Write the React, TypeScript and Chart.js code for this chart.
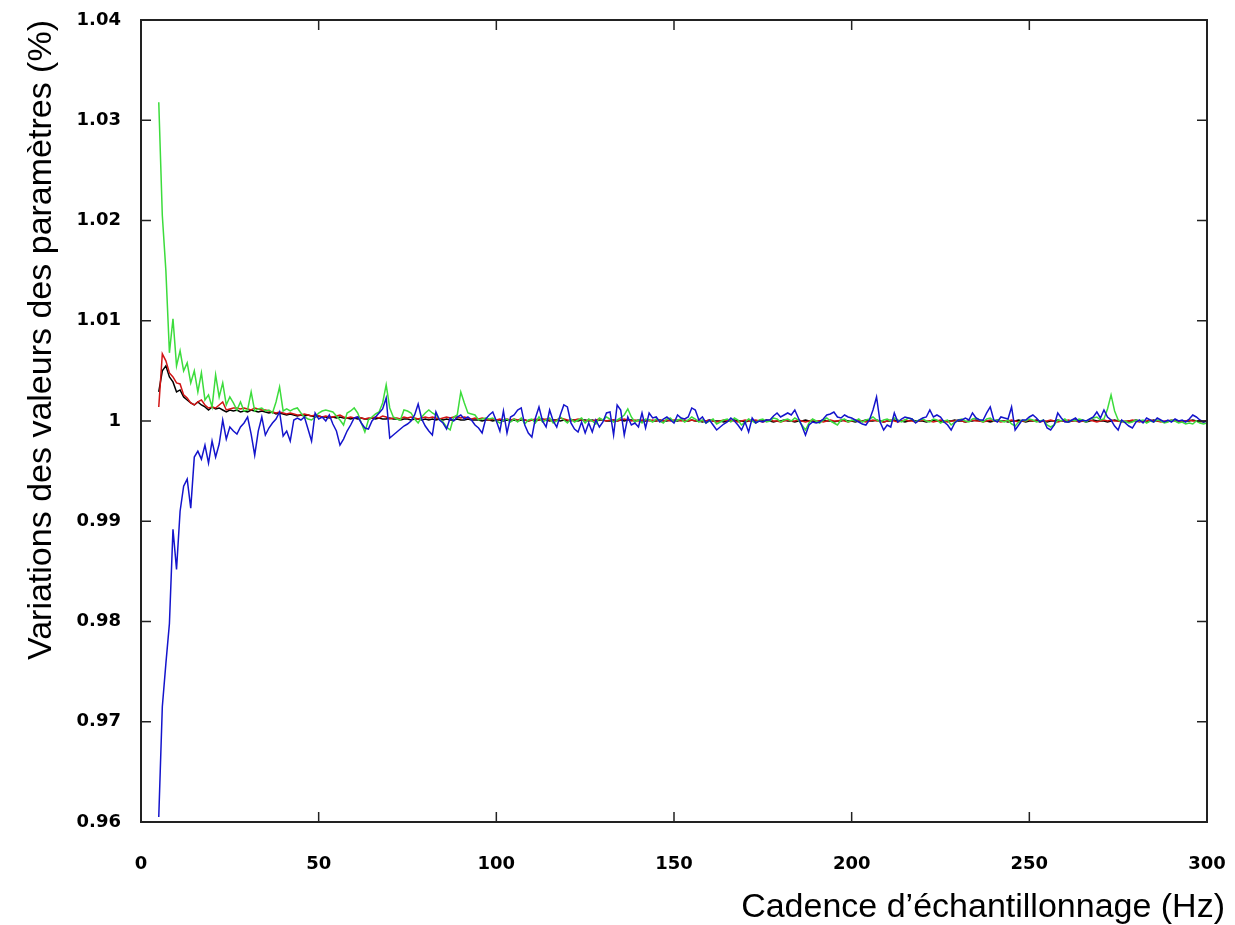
import React, { useEffect, useRef } from "react";
import { Chart, registerables } from "chart.js";

Chart.register(...registerables);

// Sampling frequencies (Hz)
const freqHz = [
  5, 6, 7, 8, 9, 10, 11, 12, 13, 14,
  15, 16, 17, 18, 19, 20, 21, 22, 23, 24,
  25, 26, 27, 28, 29, 30, 31, 32, 33, 34,
  35, 36, 37, 38, 39, 40, 41, 42, 43, 44,
  45, 46, 47, 48, 49, 50, 51, 52, 53, 54,
  55, 56, 57, 58, 59, 60, 61, 62, 63, 64,
  65, 66, 67, 68, 69, 70, 71, 72, 73, 74,
  75, 76, 77, 78, 79, 80, 81, 82, 83, 84,
  85, 86, 87, 88, 89, 90, 91, 92, 93, 94,
  95, 96, 97, 98, 99, 100, 101, 102, 103, 104,
  105, 106, 107, 108, 109, 110, 111, 112, 113, 114,
  115, 116, 117, 118, 119, 120, 121, 122, 123, 124,
  125, 126, 127, 128, 129, 130, 131, 132, 133, 134,
  135, 136, 137, 138, 139, 140, 141, 142, 143, 144,
  145, 146, 147, 148, 149, 150, 151, 152, 153, 154,
  155, 156, 157, 158, 159, 160, 161, 162, 163, 164,
  165, 166, 167, 168, 169, 170, 171, 172, 173, 174,
  175, 176, 177, 178, 179, 180, 181, 182, 183, 184,
  185, 186, 187, 188, 189, 190, 191, 192, 193, 194,
  195, 196, 197, 198, 199, 200, 201, 202, 203, 204,
  205, 206, 207, 208, 209, 210, 211, 212, 213, 214,
  215, 216, 217, 218, 219, 220, 221, 222, 223, 224,
  225, 226, 227, 228, 229, 230, 231, 232, 233, 234,
  235, 236, 237, 238, 239, 240, 241, 242, 243, 244,
  245, 246, 247, 248, 249, 250, 251, 252, 253, 254,
  255, 256, 257, 258, 259, 260, 261, 262, 263, 264,
  265, 266, 267, 268, 269, 270, 271, 272, 273, 274,
  275, 276, 277, 278, 279, 280, 281, 282, 283, 284,
  285, 286, 287, 288, 289, 290, 291, 292, 293, 294,
  295, 296, 297, 298, 299, 300,
];

// Blue series
const blueValues = [
  0.9605, 0.9715, 0.9758, 0.9798, 0.9892, 0.9852, 0.9910, 0.9935, 0.9942, 0.9913,
  0.9964, 0.9970, 0.9962, 0.9976, 0.9958, 0.9980, 0.9964, 0.9977, 1.0001, 0.9982,
  0.9994, 0.9990, 0.9987, 0.9994, 0.9998, 1.0004, 0.9987, 0.9966, 0.9990, 1.0004,
  0.9986, 0.9993, 0.9998, 1.0002, 1.0009, 0.9985, 0.9990, 0.9980, 1.0001, 1.0003,
  1.0001, 1.0004, 0.9992, 0.9980, 1.0008, 1.0002, 1.0004, 1.0000, 1.0006, 0.9997,
  0.9990, 0.9976, 0.9982, 0.9990, 0.9996, 1.0003, 1.0004, 0.9998, 0.9993, 0.9992,
  1.0000, 1.0004, 1.0008, 1.0012, 1.0023, 0.9983, 0.9986, 0.9989, 0.9992, 0.9995,
  0.9997, 1.0000, 1.0006, 1.0017, 1.0002, 0.9995, 0.9990, 0.9986, 1.0009, 1.0001,
  0.9998, 0.9992, 1.0003, 1.0000, 1.0004, 1.0006, 1.0002, 1.0004, 1.0001, 0.9996,
  0.9993, 0.9988, 1.0002, 1.0006, 1.0009, 1.0000, 0.9990, 1.0010, 0.9988, 1.0004,
  1.0006, 1.0011, 1.0013, 0.9996, 0.9988, 0.9984, 1.0003, 1.0014, 1.0000, 0.9994,
  1.0011, 1.0000, 0.9994, 1.0006, 1.0016, 1.0014, 0.9998, 0.9992, 0.9989, 0.9999,
  0.9988, 0.9998, 0.9989, 1.0001, 0.9994, 0.9999, 1.0008, 1.0009, 0.9986, 1.0016,
  1.0011, 0.9986, 1.0004, 0.9996, 0.9998, 0.9994, 1.0008, 0.9993, 1.0008, 1.0003,
  1.0004, 0.9999, 1.0002, 1.0004, 1.0001, 0.9998, 1.0006, 1.0003, 1.0002, 1.0004,
  1.0013, 1.0011, 1.0001, 1.0004, 0.9998, 1.0001, 0.9996, 0.9991, 0.9994, 0.9997,
  0.9999, 1.0003, 1.0000, 0.9996, 0.9991, 0.9999, 0.9989, 1.0003, 0.9998, 1.0000,
  0.9999, 1.0001, 1.0001, 1.0005, 1.0008, 1.0004, 1.0006, 1.0008, 1.0006, 1.0011,
  1.0003, 0.9995, 0.9986, 0.9996, 0.9999, 0.9998, 0.9999, 1.0002, 1.0006, 1.0007,
  1.0009, 1.0004, 1.0003, 1.0006, 1.0004, 1.0003, 1.0001, 0.9999, 0.9997, 0.9996,
  1.0001, 1.0011, 1.0024, 0.9999, 0.9991, 0.9996, 0.9994, 1.0008, 0.9999, 1.0002,
  1.0004, 1.0003, 1.0002, 0.9998, 1.0001, 1.0003, 1.0004, 1.0011, 1.0004, 1.0006,
  1.0004, 0.9999, 0.9996, 0.9991, 0.9998, 1.0001, 1.0001, 1.0003, 1.0001, 1.0008,
  1.0003, 1.0001, 1.0001, 1.0008, 1.0014, 1.0001, 0.9999, 1.0004, 1.0003, 1.0002,
  1.0014, 0.9991, 0.9996, 1.0001, 1.0001, 1.0004, 1.0006, 1.0003, 0.9999, 1.0001,
  0.9993, 0.9991, 0.9996, 1.0008, 1.0003, 0.9999, 0.9999, 1.0001, 1.0003, 0.9999,
  1.0001, 1.0000, 1.0002, 1.0004, 1.0009, 1.0003, 1.0011, 1.0004, 1.0001, 0.9995,
  0.9991, 1.0001, 0.9998, 0.9995, 0.9993, 0.9999, 1.0001, 0.9998, 1.0003, 1.0001,
  0.9999, 1.0003, 1.0001, 0.9999, 1.0001, 0.9999, 1.0002, 1.0000, 1.0001, 0.9999,
  1.0002, 1.0006, 1.0004, 1.0001, 0.9999, 1.0000,
];

// Green series
const greenValues = [
  1.0318, 1.0205, 1.0150, 1.0068, 1.0102, 1.0055, 1.0070, 1.0050, 1.0058, 1.0038,
  1.0050, 1.0029, 1.0048, 1.0021, 1.0026, 1.0014, 1.0046, 1.0024, 1.0038, 1.0016,
  1.0024, 1.0018, 1.0011, 1.0019, 1.0010, 1.0011, 1.0029, 1.0010, 1.0012, 1.0013,
  1.0010, 1.0011, 1.0008, 1.0019, 1.0034, 1.0010, 1.0012, 1.0010, 1.0012, 1.0013,
  1.0008, 1.0004, 1.0002, 1.0001, 1.0004, 1.0008, 1.0010, 1.0011, 1.0010, 1.0009,
  1.0005, 1.0001, 0.9996, 1.0008, 1.0010, 1.0013, 1.0008, 0.9998, 0.9989, 1.0001,
  1.0004, 1.0007, 1.0009, 1.0018, 1.0036, 1.0013, 1.0004, 1.0002, 1.0001, 1.0011,
  1.0010, 1.0008, 1.0002, 0.9998, 1.0004, 1.0008, 1.0011, 1.0008, 1.0006, 1.0002,
  0.9999, 0.9994, 0.9991, 1.0004, 1.0006, 1.0029, 1.0018, 1.0008, 1.0007, 1.0006,
  1.0001, 1.0002, 1.0003, 1.0002, 1.0003, 1.0000, 0.9998, 1.0001, 1.0002, 0.9999,
  1.0002, 0.9999, 1.0003, 0.9997, 1.0001, 1.0002, 0.9998, 1.0004, 0.9999, 1.0001,
  1.0003, 0.9998, 1.0000, 1.0004, 1.0001, 0.9998, 1.0002, 0.9999, 1.0001, 1.0003,
  0.9998, 1.0002, 1.0000, 0.9997, 1.0003, 1.0001, 1.0004, 1.0002, 0.9999, 1.0001,
  1.0003, 1.0006, 1.0012, 1.0004, 0.9999, 1.0001, 0.9998, 1.0002, 1.0001, 0.9999,
  1.0002, 1.0000, 0.9998, 1.0002, 1.0003, 0.9999, 1.0001, 1.0002, 0.9999, 1.0001,
  1.0004, 1.0002, 0.9999, 1.0001, 0.9998, 1.0000, 1.0002, 0.9997, 0.9999, 1.0001,
  1.0002, 0.9999, 1.0003, 1.0001, 0.9996, 0.9999, 1.0002, 1.0000, 0.9998, 1.0001,
  1.0002, 0.9999, 1.0000, 1.0003, 1.0002, 0.9999, 1.0001, 1.0002, 1.0000, 1.0003,
  1.0001, 0.9996, 0.9991, 0.9998, 1.0002, 1.0000, 0.9998, 1.0001, 1.0003, 1.0000,
  0.9998, 0.9996, 1.0001, 1.0002, 0.9999, 1.0001, 1.0000, 1.0002, 0.9999, 1.0001,
  1.0002, 1.0004, 1.0001, 0.9999, 1.0001, 1.0002, 1.0000, 1.0003, 1.0001, 0.9999,
  1.0001, 1.0003, 1.0002, 0.9999, 1.0001, 1.0002, 1.0000, 0.9999, 1.0002, 1.0001,
  0.9998, 1.0000, 1.0001, 0.9996, 0.9999, 1.0001, 1.0002, 1.0000, 0.9999, 1.0002,
  1.0003, 1.0001, 0.9999, 1.0002, 1.0003, 1.0000, 1.0001, 1.0000, 0.9999, 1.0001,
  0.9997, 0.9995, 0.9999, 1.0001, 1.0000, 1.0002, 1.0001, 0.9999, 1.0000, 1.0001,
  0.9996, 0.9994, 0.9996, 1.0001, 1.0000, 1.0002, 0.9999, 1.0001, 1.0000, 1.0002,
  1.0001, 0.9999, 1.0002, 1.0003, 1.0004, 1.0001, 1.0002, 1.0012, 1.0026, 1.0010,
  1.0001, 0.9999, 1.0000, 0.9998, 0.9999, 1.0001, 1.0000, 1.0001, 0.9998, 1.0000,
  0.9999, 1.0001, 1.0000, 0.9998, 0.9999, 1.0001, 1.0000, 0.9998, 0.9999, 0.9997,
  0.9998, 0.9997, 1.0000, 0.9998, 0.9997, 0.9998,
];

// Red series
const redValues = [
  1.0014, 1.0067, 1.0060, 1.0048, 1.0044, 1.0038, 1.0037, 1.0026, 1.0023, 1.0018,
  1.0016, 1.0019, 1.0021, 1.0016, 1.0013, 1.0014, 1.0013, 1.0016, 1.0019, 1.0011,
  1.0012, 1.0013, 1.0013, 1.0012, 1.0013, 1.0012, 1.0011, 1.0013, 1.0012, 1.0011,
  1.0011, 1.0010, 1.0009, 1.0008, 1.0009, 1.0008, 1.0007, 1.0008, 1.0007, 1.0006,
  1.0006, 1.0007, 1.0006, 1.0005, 1.0006, 1.0005, 1.0004, 1.0005, 1.0004, 1.0004,
  1.0005, 1.0006, 1.0004, 1.0003, 1.0004, 1.0003, 1.0004, 1.0003, 1.0002, 1.0003,
  1.0003, 1.0004, 1.0003, 1.0005, 1.0004, 1.0002, 1.0003, 1.0003, 1.0002, 1.0004,
  1.0003, 1.0004, 1.0003, 1.0002, 1.0003, 1.0004, 1.0003, 1.0004, 1.0003, 1.0002,
  1.0003, 1.0004, 1.0003, 1.0004, 1.0004, 1.0003, 1.0004, 1.0003, 1.0002, 1.0003,
  1.0002, 1.0003, 1.0002, 1.0001, 1.0002, 1.0001, 1.0002, 1.0001, 1.0002, 1.0001,
  1.0002, 1.0001, 1.0002, 1.0001, 1.0000, 1.0001, 1.0002, 1.0001, 1.0001, 1.0002,
  1.0001, 1.0000, 1.0001, 1.0003, 1.0002, 1.0001, 1.0000, 1.0001, 1.0002, 1.0001,
  1.0000, 1.0001, 1.0000, 1.0001, 1.0002, 1.0001, 1.0000, 1.0001, 1.0001, 1.0000,
  1.0001, 1.0002, 1.0001, 1.0000, 1.0001, 1.0000, 1.0001, 1.0001, 1.0000, 1.0001,
  1.0000, 1.0001, 1.0000, 1.0001, 1.0000, 1.0001, 1.0001, 1.0000, 1.0001, 1.0000,
  1.0001, 1.0000, 1.0001, 1.0000, 1.0000, 1.0001, 1.0000, 0.9999, 1.0000, 1.0001,
  1.0000, 1.0001, 1.0000, 0.9999, 1.0000, 1.0001, 1.0000, 1.0000, 1.0001, 1.0000,
  0.9999, 1.0000, 1.0001, 1.0000, 1.0000, 0.9999, 1.0000, 1.0001, 1.0000, 1.0000,
  1.0001, 1.0000, 0.9999, 1.0000, 1.0001, 1.0000, 1.0000, 0.9999, 1.0000, 1.0001,
  1.0000, 1.0000, 1.0001, 1.0000, 0.9999, 1.0000, 1.0001, 1.0000, 1.0000, 0.9999,
  1.0000, 1.0001, 1.0000, 1.0000, 0.9999, 1.0000, 1.0001, 1.0000, 0.9999, 1.0000,
  1.0001, 1.0000, 1.0000, 0.9999, 1.0000, 1.0001, 1.0000, 1.0000, 0.9999, 1.0000,
  1.0001, 1.0000, 0.9999, 1.0000, 1.0000, 1.0001, 1.0000, 0.9999, 1.0000, 1.0001,
  1.0000, 1.0000, 0.9999, 1.0000, 1.0001, 1.0000, 1.0000, 0.9999, 1.0000, 1.0000,
  1.0001, 1.0000, 0.9999, 1.0000, 1.0000, 1.0001, 1.0000, 1.0000, 0.9999, 1.0000,
  1.0000, 1.0001, 1.0000, 0.9999, 1.0000, 1.0000, 1.0001, 1.0000, 1.0000, 0.9999,
  1.0000, 1.0000, 1.0001, 1.0000, 0.9999, 1.0000, 1.0001, 1.0000, 1.0001, 1.0000,
  1.0000, 0.9999, 1.0000, 1.0000, 1.0001, 1.0000, 0.9999, 1.0000, 1.0000, 1.0001,
  1.0000, 1.0000, 0.9999, 1.0000, 1.0000, 1.0001, 1.0000, 0.9999, 1.0000, 1.0000,
  1.0001, 1.0000, 1.0000, 0.9999, 1.0000, 1.0000,
];

// Black series
const blackValues = [
  1.0029, 1.0050, 1.0055, 1.0044, 1.0039, 1.0029, 1.0031, 1.0024, 1.0021, 1.0018,
  1.0016, 1.0019, 1.0016, 1.0014, 1.0011, 1.0014, 1.0012, 1.0013, 1.0011, 1.0009,
  1.0011, 1.0010, 1.0011, 1.0009, 1.0010, 1.0009, 1.0011, 1.0010, 1.0009, 1.0010,
  1.0009, 1.0008, 1.0009, 1.0007, 1.0008, 1.0007, 1.0006, 1.0007, 1.0006, 1.0005,
  1.0006, 1.0005, 1.0006, 1.0005, 1.0004, 1.0005, 1.0004, 1.0004, 1.0003, 1.0004,
  1.0003, 1.0004, 1.0003, 1.0003, 1.0002, 1.0003, 1.0002, 1.0003, 1.0002, 1.0002,
  1.0003, 1.0002, 1.0003, 1.0002, 1.0002, 1.0003, 1.0002, 1.0002, 1.0001, 1.0002,
  1.0002, 1.0001, 1.0002, 1.0002, 1.0001, 1.0002, 1.0001, 1.0002, 1.0001, 1.0002,
  1.0001, 1.0002, 1.0001, 1.0001, 1.0002, 1.0001, 1.0001, 1.0002, 1.0001, 1.0001,
  1.0001, 1.0000, 1.0001, 1.0001, 1.0000, 1.0001, 1.0001, 1.0000, 1.0001, 1.0000,
  1.0001, 1.0000, 1.0001, 1.0001, 1.0000, 1.0001, 1.0000, 1.0001, 1.0002, 1.0001,
  1.0000, 1.0001, 1.0001, 1.0000, 1.0001, 1.0000, 1.0001, 1.0001, 1.0000, 1.0001,
  1.0001, 1.0000, 1.0001, 1.0000, 1.0001, 1.0001, 1.0000, 1.0000, 1.0001, 1.0000,
  1.0001, 1.0000, 1.0001, 1.0001, 1.0000, 1.0001, 1.0000, 1.0000, 1.0001, 1.0000,
  1.0000, 1.0001, 1.0000, 1.0000, 1.0001, 1.0000, 1.0000, 1.0001, 1.0000, 1.0000,
  1.0001, 1.0000, 1.0000, 0.9999, 1.0000, 1.0001, 1.0000, 1.0000, 1.0000, 0.9999,
  1.0000, 1.0000, 1.0001, 1.0000, 1.0000, 0.9999, 1.0000, 1.0001, 1.0000, 1.0000,
  1.0000, 1.0001, 1.0000, 0.9999, 1.0000, 1.0000, 1.0001, 1.0000, 1.0000, 0.9999,
  1.0000, 1.0000, 1.0001, 1.0000, 1.0000, 0.9999, 1.0000, 1.0001, 1.0000, 1.0000,
  0.9999, 1.0000, 1.0000, 1.0001, 1.0000, 1.0000, 0.9999, 1.0000, 1.0000, 1.0001,
  1.0000, 1.0000, 1.0001, 1.0000, 0.9999, 1.0000, 1.0000, 1.0001, 1.0000, 1.0000,
  0.9999, 1.0000, 1.0001, 1.0000, 1.0000, 1.0000, 0.9999, 1.0000, 1.0001, 1.0000,
  1.0000, 0.9999, 1.0000, 1.0000, 1.0001, 1.0000, 1.0000, 0.9999, 1.0000, 1.0000,
  1.0001, 1.0000, 1.0000, 1.0000, 0.9999, 1.0000, 1.0001, 1.0000, 1.0000, 0.9999,
  1.0000, 1.0000, 1.0001, 1.0000, 0.9999, 1.0000, 1.0000, 1.0001, 1.0000, 1.0000,
  0.9999, 1.0000, 1.0000, 1.0001, 1.0000, 1.0000, 0.9999, 1.0000, 1.0001, 1.0000,
  1.0000, 0.9999, 1.0000, 1.0001, 1.0000, 1.0000, 1.0000, 0.9999, 1.0000, 1.0001,
  1.0000, 1.0000, 0.9999, 1.0000, 1.0000, 1.0001, 1.0000, 1.0000, 0.9999, 1.0000,
  1.0001, 1.0000, 1.0000, 0.9999, 1.0000, 1.0000, 1.0001, 1.0000, 0.9999, 1.0000,
  1.0000, 1.0001, 1.0000, 1.0000, 0.9999, 1.0000,
];

const xTickValues = [0, 50, 100, 150, 200, 250, 300];
const xTickLabels = ["0", "50", "100", "150", "200", "250", "300"];
const yTickValues = [0.96, 0.97, 0.98, 0.99, 1.0, 1.01, 1.02, 1.03, 1.04];
const yTickLabels = ["0.96", "0.97", "0.98", "0.99", "1", "1.01", "1.02", "1.03", "1.04"];

const xTitle = "Cadence d\u2019échantillonnage (Hz)";
const yTitle = "Variations des valeurs des paramètres (%)";

const framePlugin = {
  id: "frameTicks",
  afterDatasetsDraw(chart: any) {
    const { ctx, chartArea, scales } = chart;
    const { left, right, top, bottom } = chartArea;
    const tl = 10;
    ctx.save();
    ctx.strokeStyle = "#222222";
    ctx.lineWidth = 2;
    ctx.strokeRect(left, top, right - left, bottom - top);
    ctx.lineWidth = 1.5;
    ctx.beginPath();
    xTickValues.forEach((v) => {
      const px = scales.x.getPixelForValue(v);
      ctx.moveTo(px, bottom);
      ctx.lineTo(px, bottom - tl);
      ctx.moveTo(px, top);
      ctx.lineTo(px, top + tl);
    });
    yTickValues.forEach((v) => {
      const py = scales.y.getPixelForValue(v);
      ctx.moveTo(left, py);
      ctx.lineTo(left + tl, py);
      ctx.moveTo(right, py);
      ctx.lineTo(right - tl, py);
    });
    ctx.stroke();
    ctx.restore();
  },
};

const tickFont = { family: "'DejaVu Sans', sans-serif", size: 18, weight: "bold" as const };
const titleFont = { family: "'Liberation Sans', Arial, sans-serif", size: 34, weight: "normal" as const };

export default function App() {
  const canvasRef = useRef<HTMLCanvasElement | null>(null);

  useEffect(() => {
    document.body.style.margin = "0";
    const canvas = canvasRef.current;
    if (!canvas) return;
    const line = (label: string, data: number[], color: string) => ({
      label,
      data,
      borderColor: color,
      backgroundColor: color,
      borderWidth: 1.5,
      pointRadius: 0,
      tension: 0,
      fill: false,
    });
    const chart = new Chart(canvas, {
      type: "line",
      data: {
        labels: freqHz,
        datasets: [
          line("bleu", blueValues, "#1414cc"),
          line("vert", greenValues, "#3cdc3c"),
          line("rouge", redValues, "#d21414"),
          line("noir", blackValues, "#000000"),
        ],
      },
      options: {
        animation: false,
        responsive: true,
        maintainAspectRatio: false,
        layout: { padding: { left: 0, top: 20, right: 10, bottom: 0 } },
        plugins: {
          legend: { display: false },
          tooltip: { enabled: false },
          title: {
            display: true,
            text: xTitle,
            position: "bottom",
            align: "end",
            color: "#000",
            font: titleFont,
            padding: { top: 0, bottom: -3 },
          },
        },
        scales: {
          x: {
            type: "linear",
            min: 0,
            max: 300,
            afterBuildTicks: (scale: any) => {
              scale.ticks = xTickValues.map((v) => ({ value: v }));
            },
            afterFit: (scale: any) => {
              scale.height = 65.2;
              scale.paddingLeft = 0;
              scale.paddingRight = 28;
            },
            grid: { display: false, drawTicks: false },
            border: { display: false },
            ticks: {
              autoSkip: false,
              maxRotation: 0,
              padding: 32,
              color: "#000",
              font: tickFont,
              callback: (_v: any, i: number) => xTickLabels[i],
            },
            title: { display: false },
          },
          y: {
            type: "linear",
            min: 0.96,
            max: 1.04,
            afterBuildTicks: (scale: any) => {
              scale.ticks = yTickValues.map((v) => ({ value: v }));
            },
            afterFit: (scale: any) => {
              scale.width = 141;
              scale.paddingTop = 0;
              scale.paddingBottom = 0;
            },
            grid: { display: false, drawTicks: false },
            border: { display: false },
            ticks: {
              autoSkip: false,
              padding: 20,
              color: "#000",
              font: tickFont,
              callback: (_v: any, i: number) => yTickLabels[i],
            },
            title: {
              display: true,
              text: yTitle,
              align: "end",
              color: "#000",
              font: titleFont,
              padding: { top: 21, bottom: 0 },
            },
          },
        },
      },
      plugins: [framePlugin],
    });
    return () => chart.destroy();
  }, []);

  return (
    <div style={{ position: "fixed", left: 0, top: 0, width: 1235, height: 925, background: "#fff" }}>
      <canvas ref={canvasRef} />
    </div>
  );
}
